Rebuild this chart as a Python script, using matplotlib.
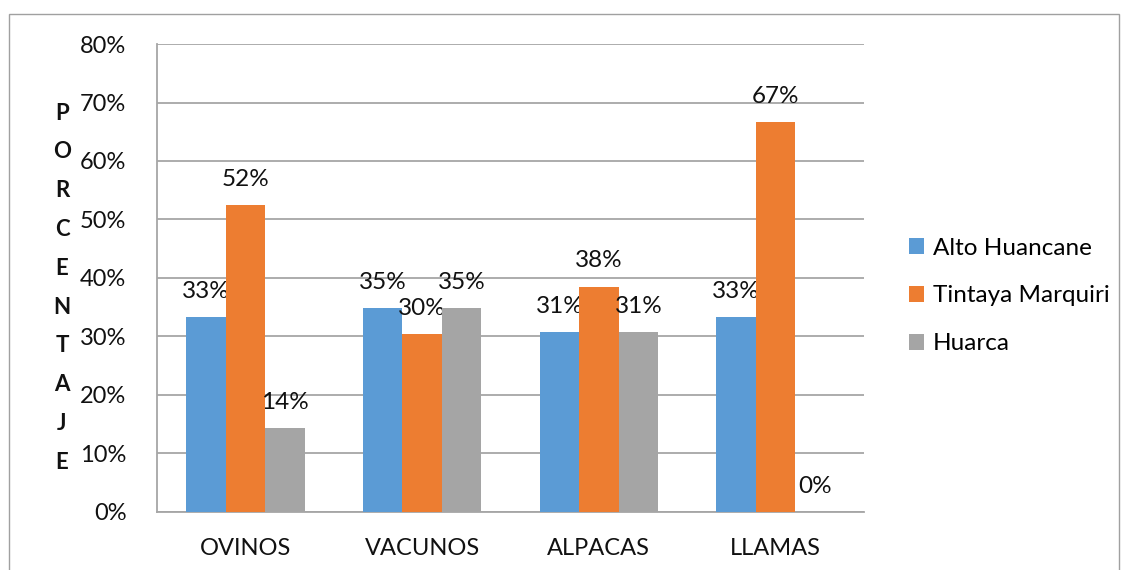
import matplotlib
matplotlib.use('Agg')
import matplotlib.pyplot as plt
from matplotlib.patches import Rectangle, Patch
import numpy as np

categories = ['OVINOS', 'VACUNOS', 'ALPACAS', 'LLAMAS']
series_names = ['Alto Huancane', 'Tintaya Marquiri', 'Huarca']
alto_huancane = [33.3, 34.8, 30.8, 33.3]
tintaya_marquiri = [52.4, 30.4, 38.5, 66.7]
huarca = [14.3, 34.8, 30.8, 0.0]
y_ticks = [0, 10, 20, 30, 40, 50, 60, 70, 80]
y_letters = list('PORCENTAJE')

colors = ['#5B9BD5', '#ED7D31', '#A5A5A5']
plt.rcParams['font.family'] = ['Lato', 'DejaVu Sans']

fig = plt.figure(figsize=(11.23, 5.70), dpi=100)
ax = fig.add_axes([0.1398, 0.1018, 0.6296, 0.821])

# outer chart border
fig.patches.append(Rectangle((9 / 1123, -0.05), 1110 / 1123, 1.05 - 14 / 570,
                             transform=fig.transFigure, fill=False,
                             edgecolor='#a0a0a0', linewidth=1.0))

x = np.arange(len(categories))
width = 0.2235
all_series = [alto_huancane, tintaya_marquiri, huarca]
for i, (name, vals) in enumerate(zip(series_names, all_series)):
    pos = x + (i - 1) * width
    ax.bar(pos, vals, width=width, color=colors[i], label=name, zorder=3)
    for px, v in zip(pos, vals):
        ax.annotate(f'{v:.0f}%', (px, v), xytext=(0, 11), textcoords='offset points',
                    ha='center', va='bottom', fontsize=17.5, color='#111111')

ax.set_xlim(-0.5, len(categories) - 0.5)
ax.set_ylim(0, 80)
ax.set_yticks(y_ticks)
ax.set_yticklabels([f'{t}%' for t in y_ticks])
ax.set_xticks(x)
ax.set_xticklabels(categories)
ax.tick_params(axis='both', length=0, labelsize=17, colors='#111111')
ax.tick_params(axis='y', pad=22)
ax.tick_params(axis='x', pad=19)
ax.yaxis.grid(True, color='#a6a6a6', linewidth=1.3, zorder=0)
ax.set_axisbelow(True)
for side in ['top', 'right']:
    ax.spines[side].set_visible(False)
ax.spines['left'].set_color('#a6a6a6')
ax.spines['bottom'].set_color('#a6a6a6')
ax.spines['left'].set_linewidth(1.3)
ax.spines['bottom'].set_linewidth(1.3)

# stacked vertical axis title
for k, ch in enumerate(y_letters):
    fig.text(62 / 1123, 1 - (113 + k * 38.8) / 570, ch, ha='center', va='center',
             fontsize=16, fontweight='bold', color='#111111')

handles = [Patch(facecolor=c, label=n) for c, n in zip(colors, series_names)]
fig.legend(handles=handles, loc='center left', bbox_to_anchor=(909 / 1123, 1 - 296 / 570),
           frameon=False, fontsize=17.5, handlelength=0.62, handleheight=0.62,
           labelspacing=1.1, handletextpad=0.35, borderpad=0, borderaxespad=0)

fig.savefig('out.png', dpi=100)
